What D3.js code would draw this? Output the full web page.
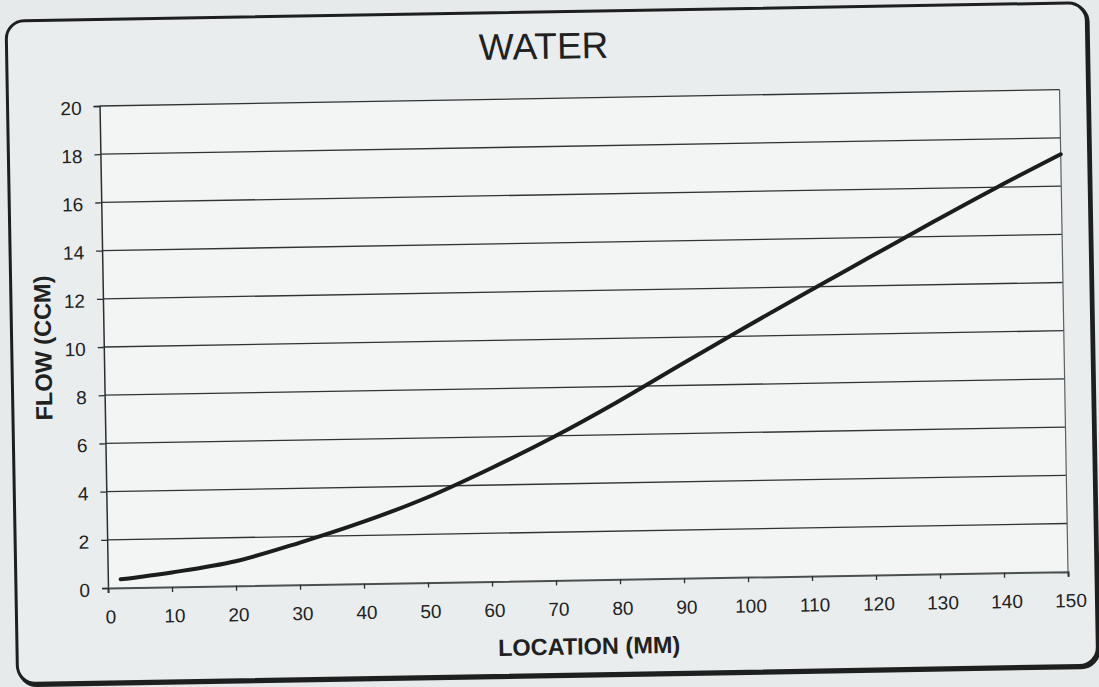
<!DOCTYPE html>
<html>
<head>
<meta charset="utf-8">
<script src="https://cdn.jsdelivr.net/npm/d3@7"></script>
<style>
  html, body { margin: 0; padding: 0; background: #e7eaea; }
  svg { display: block; }
  text { font-family: "Liberation Sans", Arial, sans-serif; fill: #202222; }
</style>
</head>
<body>
<svg id="chart" width="1099" height="687"></svg>
<script>
// ---- data ----
const title = "WATER";
const xTitle = "LOCATION (MM)";
const yTitle = "FLOW (CCM)";
const locations = [2, 10, 20, 30, 40, 50, 60, 70, 80, 90, 100, 110, 120, 130, 140, 150];
const flows     = [0.35, 0.6, 1.02, 1.74, 2.56, 3.52, 4.68, 5.95, 7.35, 8.85, 10.33, 11.78, 13.2, 14.62, 16.0, 17.32];
const xTicks = [0, 10, 20, 30, 40, 50, 60, 70, 80, 90, 100, 110, 120, 130, 140, 150];
const yTicks = [0, 2, 4, 6, 8, 10, 12, 14, 16, 18, 20];

const W = 1099, H = 687;
const plot = { left: 108, right: 1068, top: 106, bottom: 588 };

const svg = d3.select("#chart");
svg.append("rect").attr("width", W).attr("height", H).attr("fill", "#e7eaea");

// the scanned page is slightly tilted
const page = svg.append("g")
  .attr("transform", "matrix(1,-0.017,0.0175,1,-10.3,1.84)");

// frame
page.append("rect")
  .attr("x", 17.5).attr("y", 21).attr("width", 1080).attr("height", 663)
  .attr("rx", 18).attr("fill", "none").attr("stroke", "#1e2020").attr("stroke-width", 3.5);
page.append("rect")
  .attr("x", 16).attr("y", 19.5).attr("width", 1080).attr("height", 662.5)
  .attr("rx", 18).attr("fill", "#eaeded").attr("stroke", "#1e2020").attr("stroke-width", 3);

const x = d3.scaleLinear().domain([0, 150]).range([plot.left, plot.right]);
const y = d3.scaleLinear().domain([0, 20]).range([plot.bottom, plot.top]);

// plot area
page.append("rect")
  .attr("x", plot.left).attr("y", plot.top)
  .attr("width", plot.right - plot.left).attr("height", plot.bottom - plot.top)
  .attr("fill", "#f3f5f4");

// horizontal gridlines
page.append("g").selectAll("line")
  .data(yTicks.filter(d => d > 0))
  .join("line")
  .attr("x1", plot.left).attr("x2", plot.right)
  .attr("y1", d => y(d)).attr("y2", d => y(d))
  .attr("stroke", "#2e3333").attr("stroke-width", 1.3);

// right border
page.append("line")
  .attr("x1", plot.right).attr("x2", plot.right)
  .attr("y1", plot.top).attr("y2", plot.bottom)
  .attr("stroke", "#5a5f5f").attr("stroke-width", 1.2);

// y axis
const yAxis = d3.axisLeft(y).tickValues(yTicks).tickSize(6).tickPadding(12).tickFormat(d3.format("d"));
const gy = page.append("g").attr("transform", `translate(${plot.left},0)`).call(yAxis);
gy.select(".domain").attr("stroke", "#2a2e2e").attr("stroke-width", 1.5);
gy.selectAll(".tick line").attr("stroke", "#2a2e2e").attr("stroke-width", 1.3);
gy.selectAll(".tick text")
  .style("font-family", '"Liberation Sans", Arial, sans-serif')
  .style("font-size", "19px").attr("fill", "#202222").attr("dy", "0.42em");

// x axis
const xAxis = d3.axisBottom(x).tickValues(xTicks).tickSize(5).tickPadding(17).tickFormat(d3.format("d"));
const gx = page.append("g").attr("transform", `translate(0,${plot.bottom})`).call(xAxis);
gx.select(".domain").attr("stroke", "#4a4f4f").attr("stroke-width", 2);
gx.selectAll(".tick line").attr("stroke", "#2a2e2e").attr("stroke-width", 1.3);
gx.selectAll(".tick text")
  .style("font-family", '"Liberation Sans", Arial, sans-serif')
  .style("font-size", "19px").attr("fill", "#202222").attr("dx", "2");

// curve
const line = d3.line()
  .x((d, i) => x(locations[i]))
  .y(d => y(d))
  .curve(d3.curveCatmullRom.alpha(0.5));
page.append("path")
  .datum(flows)
  .attr("d", line)
  .attr("fill", "none")
  .attr("stroke", "#1b1d1d")
  .attr("stroke-width", 4)
  .attr("stroke-linecap", "round");

// titles
page.append("text")
  .attr("x", 553).attr("y", 66.5)
  .attr("text-anchor", "middle")
  .style("font-size", "37px")
  .text(title);

page.append("text")
  .attr("x", (plot.left + plot.right) / 2).attr("y", 662.5)
  .attr("text-anchor", "middle")
  .style("font-size", "23.5px").style("font-weight", "bold")
  .text(xTitle);

page.append("text")
  .attr("transform", `translate(55.5,${(plot.top + plot.bottom) / 2}) rotate(-90)`)
  .attr("text-anchor", "middle")
  .style("font-size", "23.5px").style("font-weight", "bold")
  .text(yTitle);
</script>
</body>
</html>
